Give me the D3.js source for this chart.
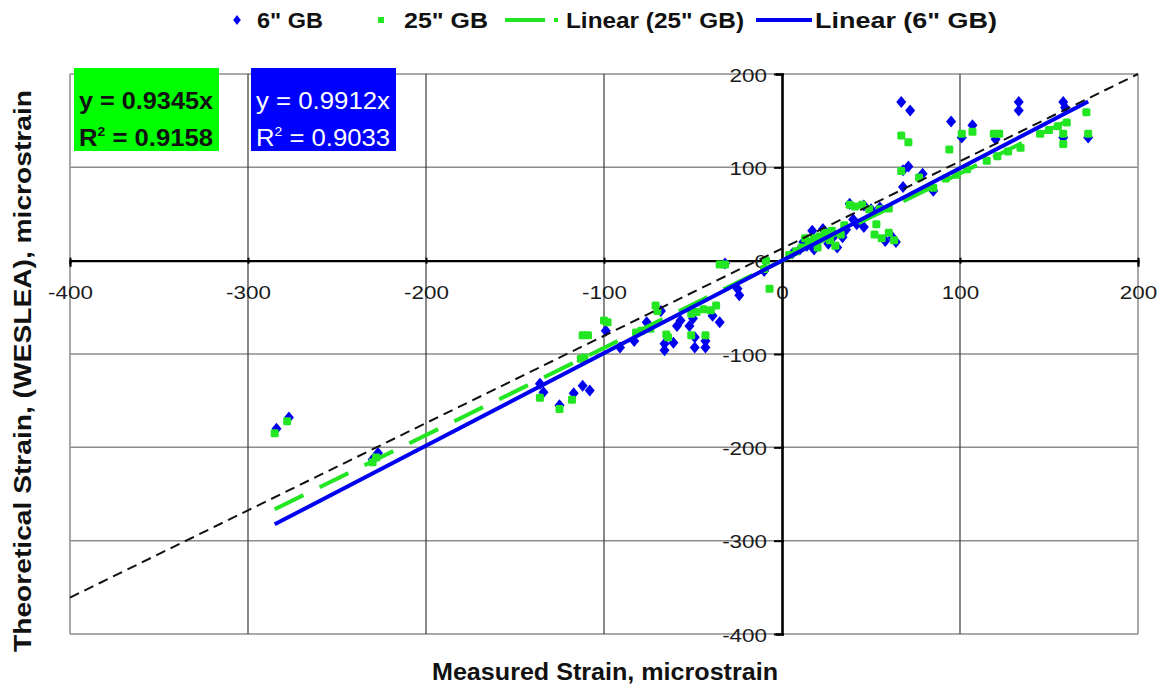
<!DOCTYPE html>
<html><head><meta charset="utf-8">
<script src="https://cdn.jsdelivr.net/npm/d3@7"></script>
<style>body{margin:0;background:#fff}svg{display:block}text{font-family:"Liberation Sans",Arial,sans-serif}</style>
</head><body><svg id="c" width="1159" height="686"></svg>
<script>
// ---- data ----
const xTicks = [-400, -300, -200, -100, 0, 100, 200];
const yTicks = [-400, -300, -200, -100, 0, 100, 200];
const seriesNames = ['6" GB', '25" GB', 'Linear (25" GB)', 'Linear (6" GB)'];
const slope6 = 0.9912, r2_6 = 0.9033;
const slope25 = 0.9345, r2_25 = 0.9158;
const fitRange = [-285, 172];
const refLineX = [-400, 200];
const refLineY = [-361, 200];
const gb6 = [
  [-284,-180],[-277,-168],[-230,-213],[-227,-206],
  [-136,-132],[-134,-141],[-125,-155],[-117,-142],[-112,-134],[-108,-139],
  [-99,-75],[-91,-93],[-83,-86],[-76,-66],[-68,-54],
  [-66,-89],[-66,-96],[-61,-88],[-57,-64],[-59,-70],
  [-52,-70],[-50,-62],[-49,-82],[-43,-86],[-49,-93],[-43,-93],
  [-39,-59],[-35,-66],[-32,-3],[-25,-30],[-24,-37],[-10,-11],
  [6,8],[10,12],[14,16],[17,32],[23,34],[20,22],[26,18],[29,26],[31,14],[34,25],
  [12,20],[18,12],[25,28],[36,33],[40,44],
  [38,61],[42,39],[46,36],[46,59],[50,55],[55,57],[58,21],[62,25],[64,20],
  [68,79],[67,170],[72,161],[68,97],[71,101],[79,93],[85,75],
  [95,149],[101,132],[107,145],[120,130],[133,170],[133,161],
  [158,170],[159,164],[158,132],[172,132]
];
const gb25 = [
  [-285,-185],[-278,-172],[-230,-216],[-228,-211],
  [-136,-147],[-125,-159],[-118,-149],
  [-113,-105],[-111,-104],[-112,-80],[-109,-80],
  [-100,-64],[-98,-66],[-82,-77],[-79,-75],[-74,-73],
  [-71,-48],[-70,-54],[-65,-79],[-64,-82],
  [-51,-57],[-48,-55],[-44,-52],[-40,-53],[-37,-48],
  [-51,-80],[-43,-80],
  [-35,-4],[-32,-4],[-9,0],[-7,-30],[-10,-9],
  [4,6],[8,10],[11,14],[15,20],[18,24],[21,26],[24,30],[27,22],[30,16],[33,28],
  [13,24],[20,14],[28,32],[35,38],
  [38,60],[41,58],[45,60],[49,55],[53,39],[55,55],[60,56],[52,28],[56,24],[60,30],[63,22],
  [67,134],[71,127],[67,96],[77,89],[85,78],[92,88],[98,92],[104,98],
  [94,119],[101,136],[107,138],[119,136],[122,136],
  [115,107],[121,112],[127,117],[134,121],[145,136],[150,140],[155,144],[160,148],
  [158,136],[158,125],[172,136],[171,159]
];

// ---- layout ----
const svg = d3.select('#c');
const x = d3.scaleLinear().domain([-400, 200]).range([70, 1138]);
const y = d3.scaleLinear().domain([-400, 200]).range([634, 74]);
const BLUE = '#0000f0', GREEN = '#22e622', BOXGREEN = '#00ff00', BOXBLUE = '#0000ff';
const fmt = d => String(d);

// gridlines
const grid = svg.append('g');
grid.selectAll('line.h').data(yTicks).join('line')
  .attr('x1', x(-400)).attr('x2', x(200)).attr('y1', d => y(d)).attr('y2', d => y(d))
  .attr('stroke', '#8c8c8c').attr('stroke-width', 1.5);
grid.selectAll('line.v').data(xTicks.filter(d => d !== 0)).join('line')
  .attr('y1', y(-400)).attr('y2', y(200)).attr('x1', d => x(d)).attr('x2', d => x(d))
  .attr('stroke', d => (d === -400 || d === 200) ? '#8c8c8c' : '#3a3a3a').attr('stroke-width', d => (d === -400 || d === 200) ? 1.5 : 1.2);

// axes through zero
const xAxis = d3.axisBottom(x).tickValues(xTicks).tickSize(6).tickFormat(fmt);
const gx = svg.append('g').attr('transform', `translate(0,${y(0)})`).call(xAxis);
gx.select('.domain').attr('stroke', '#000').attr('stroke-width', 2.2);
gx.selectAll('.tick line').attr('stroke', '#000').attr('stroke-width', 2).attr('y1', -3).attr('y2', 3);
gx.selectAll('.tick text').attr('font-size', 19).attr('fill', '#1a1a1a').attr('y', 0).attr('dy', 0)
  .attr('transform', 'translate(0,38) scale(1.18,1)').attr('font-family', '"Liberation Sans",Arial,sans-serif');

const yAxis = d3.axisLeft(y).tickValues(yTicks).tickSize(6).tickFormat(fmt);
const gy = svg.append('g').attr('transform', `translate(${x(0)},0)`).call(yAxis);
gy.select('.domain').attr('stroke', '#000').attr('stroke-width', 2.6);
gy.selectAll('.tick line').attr('stroke', '#000').attr('stroke-width', 2).attr('x1', -8).attr('x2', 2);
gy.selectAll('.tick text').attr('font-size', 19).attr('fill', '#1a1a1a').attr('x', 0).attr('dy', 0)
  .attr('transform', 'translate(-15,7) scale(1.18,1)').attr('font-family', '"Liberation Sans",Arial,sans-serif');

// scatter markers
const diamond = 'M0,-6L5,0L0,6L-5,0Z';
svg.append('g').selectAll('path').data(gb6).join('path')
  .attr('d', diamond).attr('transform', d => `translate(${x(d[0])},${y(d[1])})`)
  .attr('fill', BLUE);
svg.append('g').selectAll('rect').data(gb25).join('rect')
  .attr('x', d => x(d[0]) - 4).attr('y', d => y(d[1]) - 4)
  .attr('width', 8).attr('height', 8).attr('rx', 1.5).attr('fill', GREEN);

// trendlines
const line = d3.line().x(d => x(d[0])).y(d => y(d[1]));
svg.append('path').datum(fitRange.map(v => [v, slope25 * v]))
  .attr('d', line).attr('stroke', GREEN).attr('stroke-width', 4).attr('fill', 'none')
  .attr('stroke-dasharray', '32,18');
svg.append('path').datum(fitRange.map(v => [v, slope6 * v]))
  .attr('d', line).attr('stroke', BLUE).attr('stroke-width', 4).attr('fill', 'none');
svg.append('path').datum(refLineX.map((v, i) => [v, refLineY[i]]))
  .attr('d', line).attr('stroke', '#111').attr('stroke-width', 2).attr('fill', 'none')
  .attr('stroke-dasharray', '10,6');

// equation boxes
function eqBox(x0, fill, color, weight, slope, r2) {
  const g = svg.append('g');
  g.append('rect').attr('x', x0).attr('y', 68).attr('width', 145).attr('height', 83).attr('fill', fill);
  g.append('text').attr('x', x0 + 5).attr('y', 109).attr('fill', color).attr('font-weight', weight)
    .attr('font-size', 24).attr('textLength', 134).attr('lengthAdjust', 'spacingAndGlyphs')
    .text('y = ' + slope + 'x');
  const t = g.append('text').attr('x', x0 + 5).attr('y', 146).attr('fill', color).attr('font-weight', weight)
    .attr('font-size', 24).attr('textLength', 134).attr('lengthAdjust', 'spacingAndGlyphs');
  t.append('tspan').text('R');
  t.append('tspan').attr('dy', -10).attr('font-size', 13).text('2');
  t.append('tspan').attr('dy', 10).text(' = ' + r2);
}
eqBox(74, BOXGREEN, '#111', 'bold', slope25.toFixed(4), r2_25.toFixed(4));
eqBox(251, BOXBLUE, '#fff', 'normal', slope6.toFixed(4), r2_6.toFixed(4));

// legend
const lg = svg.append('g');
lg.append('path').attr('d', 'M0,-5L3.8,0L0,5L-3.8,0Z').attr('transform', 'translate(237,20)').attr('fill', BLUE);
lg.append('rect').attr('x', 378).attr('y', 17).attr('width', 6).attr('height', 6).attr('fill', GREEN);
lg.append('line').attr('x1', 505).attr('x2', 545).attr('y1', 20).attr('y2', 20).attr('stroke', GREEN).attr('stroke-width', 4);
lg.append('rect').attr('x', 554).attr('y', 18).attr('width', 4).attr('height', 4).attr('fill', GREEN);
lg.append('line').attr('x1', 756).attr('x2', 812).attr('y1', 20).attr('y2', 20).attr('stroke', BLUE).attr('stroke-width', 4);
const legItems = [[257, 66, seriesNames[0]], [404, 84, seriesNames[1]], [566, 178, seriesNames[2]], [815, 182, seriesNames[3]]];
lg.selectAll('text').data(legItems).join('text')
  .attr('x', d => d[0]).attr('y', 28).attr('font-size', 22).attr('font-weight', 'bold').attr('fill', '#111')
  .attr('textLength', d => d[1]).attr('lengthAdjust', 'spacingAndGlyphs').text(d => d[2]);

// axis titles
svg.append('text').attr('x', 432).attr('y', 680).attr('font-size', 23).attr('font-weight', 'bold').attr('fill', '#111')
  .attr('textLength', 346).attr('lengthAdjust', 'spacingAndGlyphs').text('Measured Strain, microstrain');
svg.append('text').attr('transform', 'translate(31,652) rotate(-90)').attr('font-size', 23).attr('font-weight', 'bold').attr('fill', '#111')
  .attr('textLength', 562).attr('lengthAdjust', 'spacingAndGlyphs').text('Theoretical Strain, (WESLEA), microstrain');
</script></body></html>
